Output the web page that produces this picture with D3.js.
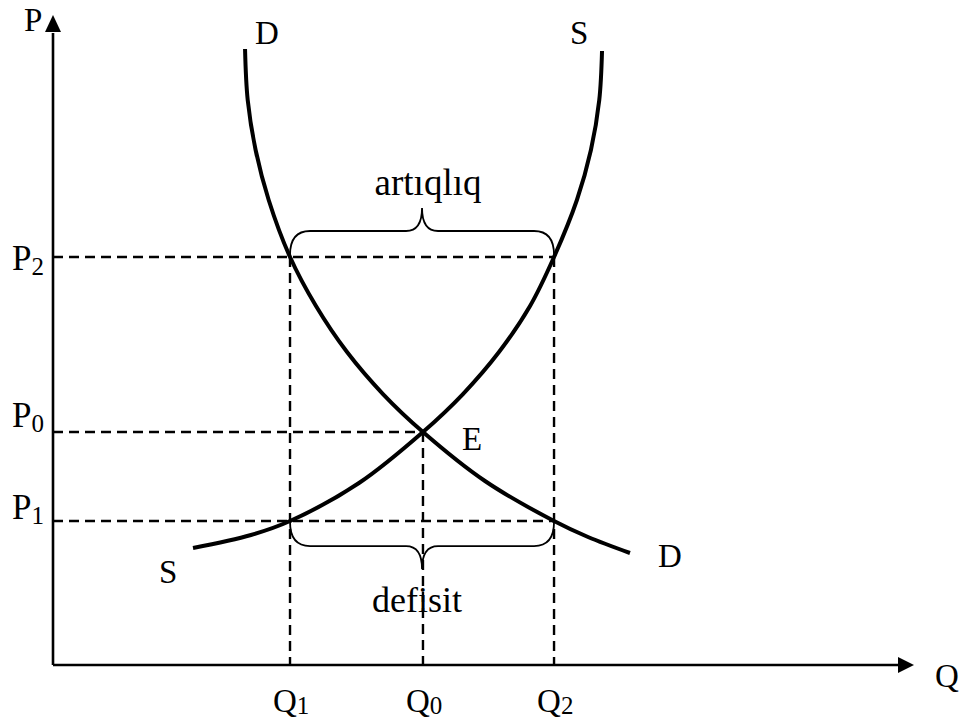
<!DOCTYPE html>
<html>
<head>
<meta charset="utf-8">
<script src="https://cdn.jsdelivr.net/npm/d3@7"></script>
<style>
  body { margin: 0; background: #fff; }
  svg { display: block; }
  text { font-family: "Liberation Serif", "Times New Roman", serif; fill: #000; }
  .curve { fill: none; stroke: #000; stroke-width: 4; }
  .guide { fill: none; stroke: #000; stroke-width: 2.4; stroke-dasharray: 10,6; }
  .brace { fill: none; stroke: #000; stroke-width: 1.8; }
  .axis-line { stroke: #000; stroke-width: 2.6; }
</style>
</head>
<body>
<svg width="967" height="720"></svg>
<script>
// Supply and demand: equilibrium, surplus (artıqlıq) and shortage (defisit)
// values are in arbitrary units 0..100

const qSubs = ["1", "0", "2"];
const qValues = [27.56, 43.02, 58.26];

const pSubs = ["2", "0", "1"];
const pValues = [62.77, 35.85, 22.15];

const demandQ = [22.33, 22.64, 23.56, 25.08, 27.56, 30.58, 34.19, 38.37, 43.02, 50.23, 58.26, 62.21, 67.09];
const demandP = [94.77, 86.92, 79.23, 71.54, 62.77, 55.23, 48.15, 41.69, 35.85, 28.31, 22.15, 19.69, 17.23];

const supplyQ = [16.28, 23.02, 27.56, 35.58, 43.02, 47.67, 51.86, 55.47, 58.26, 60.92, 62.55, 63.52, 63.84];
const supplyP = [18.0, 20.0, 22.15, 28.0, 35.85, 41.69, 48.15, 55.23, 62.77, 71.54, 79.23, 86.92, 94.46];

const braceLabels = ["artıqlıq", "defisit"];

const svg = d3.select("svg"),
  width = +svg.attr("width"),
  height = +svg.attr("height");

const x = d3.scaleLinear().domain([0, 100]).range([53, 913]);
const y = d3.scaleLinear().domain([0, 100]).range([665, 15]);

// axes with arrow heads
svg.append("line").attr("class", "axis-line")
  .attr("x1", x(0)).attr("y1", y(0)).attr("x2", x(0)).attr("y2", y(0) - 632);
svg.append("line").attr("class", "axis-line")
  .attr("x1", x(0)).attr("y1", y(0)).attr("x2", x(100) - 14).attr("y2", y(0));

svg.append("path")
  .attr("d", `M${x(0)},${y(100)} L${x(0) - 8},${y(100) + 17} L${x(0) + 8},${y(100) + 17} Z`);
svg.append("path")
  .attr("d", `M${x(100) + 1},${y(0)} L${x(100) - 15},${y(0) - 8} L${x(100) - 15},${y(0) + 8} Z`);

svg.append("text").attr("x", 24).attr("y", 31).attr("font-size", 33).text("P");
svg.append("text").attr("x", 935).attr("y", 687).attr("font-size", 33).text("Q");

// dashed guide lines: P2 and P1 run to Q2, P0 to Q0
const pEnd = [qValues[2], qValues[1], qValues[2]];
pValues.forEach((p, i) => {
  svg.append("line").attr("class", "guide")
    .attr("x1", x(0)).attr("y1", y(p))
    .attr("x2", x(pEnd[i])).attr("y2", y(p));
});
const qTop = [pValues[0], pValues[1], pValues[0]];
qValues.forEach((q, i) => {
  svg.append("line").attr("class", "guide")
    .attr("x1", x(q)).attr("y1", y(qTop[i]))
    .attr("x2", x(q)).attr("y2", y(0));
});

// curves
const line = d3.line()
  .x(d => x(d[0]))
  .y(d => y(d[1]))
  .curve(d3.curveCatmullRom.alpha(0.5));

svg.append("path").attr("class", "curve")
  .datum(d3.zip(demandQ, demandP))
  .attr("d", line);
svg.append("path").attr("class", "curve")
  .datum(d3.zip(supplyQ, supplyP))
  .attr("d", line);

// braces between Q1 and Q2
function bracePath(x1, x2, y0, dir) {
  const h = 24 * dir, t = 47 * dir, r = 20, rt = 16;
  const xm = (x1 + x2) / 2, yh = y0 + h, yt = y0 + t;
  return `M${x1},${y0} Q${x1},${yh} ${x1 + r},${yh} L${xm - rt},${yh} Q${xm},${yh} ${xm},${yt}` +
    ` Q${xm},${yh} ${xm + rt},${yh} L${x2 - r},${yh} Q${x2},${yh} ${x2},${y0}`;
}
svg.append("path").attr("class", "brace")
  .attr("d", bracePath(x(qValues[0]), x(qValues[2]), y(pValues[0]) - 2, -1));
svg.append("path").attr("class", "brace")
  .attr("d", bracePath(x(qValues[0]), x(qValues[2]), y(pValues[2]) + 1, 1));

const midX = (x(qValues[0]) + x(qValues[2])) / 2;
svg.append("text").attr("x", midX + 6).attr("y", 195)
  .attr("text-anchor", "middle").attr("font-size", 37).text(braceLabels[0]);
svg.append("text").attr("x", midX - 5).attr("y", 612)
  .attr("text-anchor", "middle").attr("font-size", 36).text(braceLabels[1]);

// curve labels
const curveLabels = [
  { t: "D", x: 255, y: 44 },
  { t: "S", x: 570, y: 44 },
  { t: "S", x: 159, y: 583 },
  { t: "D", x: 658, y: 567 },
  { t: "E", x: 462, y: 450 }
];
svg.selectAll(".clabel").data(curveLabels).join("text")
  .attr("class", "clabel")
  .attr("x", d => d.x).attr("y", d => d.y)
  .attr("font-size", 33)
  .text(d => d.t);

// price labels
const pDy = [13, -5, -2];
pSubs.forEach((s, i) => {
  const t = svg.append("text").attr("x", 12).attr("y", y(pValues[i]) + pDy[i]).attr("font-size", 35);
  t.append("tspan").text("P");
  t.append("tspan").attr("font-size", 25).attr("dy", 5).text(s);
});

// quantity labels
qSubs.forEach((s, i) => {
  const t = svg.append("text").attr("x", x(qValues[i]) - 17).attr("y", 712).attr("font-size", 33);
  t.append("tspan").text("Q");
  t.append("tspan").attr("font-size", 25).attr("dy", 2).text(s);
});
</script>
</body>
</html>
